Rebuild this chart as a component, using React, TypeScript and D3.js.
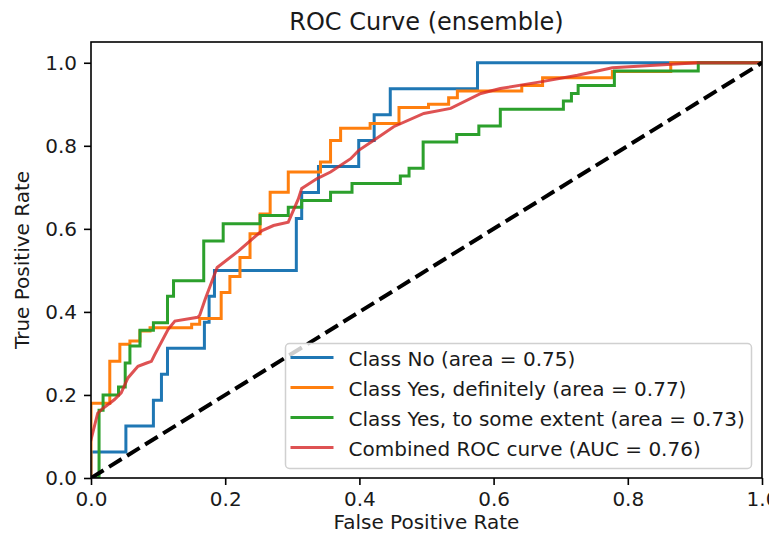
import React, { useEffect, useRef } from 'react';
import * as d3 from 'd3';

// ROC points
const NO_FPR = [0, 0, 0.052, 0.052, 0.093, 0.093, 0.105, 0.105, 0.114, 0.114, 0.169, 0.169, 0.176, 0.176, 0.184, 0.184, 0.306, 0.306, 0.314, 0.314, 0.339, 0.339, 0.399, 0.399, 0.422, 0.422, 0.446, 0.446, 0.576, 0.576, 1];
const NO_TPR = [0, 0.0625, 0.0625, 0.125, 0.125, 0.1875, 0.1875, 0.25, 0.25, 0.3125, 0.3125, 0.375, 0.375, 0.4375, 0.4375, 0.5, 0.5, 0.625, 0.625, 0.6875, 0.6875, 0.75, 0.75, 0.8125, 0.8125, 0.875, 0.875, 0.9375, 0.9375, 1, 1];

const DEF_FPR = [0, 0, 0.028, 0.028, 0.043, 0.043, 0.058, 0.058, 0.073, 0.073, 0.088, 0.088, 0.15, 0.15, 0.162, 0.162, 0.194, 0.194, 0.207, 0.207, 0.222, 0.222, 0.237, 0.237, 0.252, 0.252, 0.267, 0.267, 0.294, 0.294, 0.342, 0.342, 0.357, 0.357, 0.372, 0.372, 0.416, 0.416, 0.459, 0.459, 0.503, 0.503, 0.533, 0.533, 0.546, 0.546, 0.642, 0.642, 0.673, 0.673, 0.777, 0.777, 0.864, 0.864, 1];
const DEF_TPR = [0, 0.18, 0.18, 0.281, 0.281, 0.322, 0.322, 0.33, 0.33, 0.354, 0.354, 0.362, 0.362, 0.37, 0.37, 0.384, 0.384, 0.447, 0.447, 0.485, 0.485, 0.531, 0.531, 0.588, 0.588, 0.636, 0.636, 0.688, 0.688, 0.737, 0.737, 0.761, 0.761, 0.813, 0.813, 0.842, 0.842, 0.854, 0.854, 0.892, 0.892, 0.9, 0.9, 0.916, 0.916, 0.932, 0.932, 0.945, 0.945, 0.964, 0.964, 0.979, 0.979, 1, 1];

const SOME_FPR = [0, 0.012, 0.012, 0.018, 0.018, 0.041, 0.041, 0.051, 0.051, 0.058, 0.058, 0.073, 0.073, 0.093, 0.093, 0.114, 0.114, 0.123, 0.123, 0.168, 0.168, 0.197, 0.197, 0.252, 0.252, 0.294, 0.294, 0.314, 0.314, 0.357, 0.357, 0.389, 0.389, 0.461, 0.461, 0.474, 0.474, 0.495, 0.495, 0.545, 0.545, 0.578, 0.578, 0.61, 0.61, 0.704, 0.704, 0.716, 0.716, 0.726, 0.726, 0.78, 0.78, 0.905, 0.905, 1];
const SOME_TPR = [0, 0, 0.163, 0.163, 0.2, 0.2, 0.219, 0.219, 0.277, 0.277, 0.318, 0.318, 0.356, 0.356, 0.374, 0.374, 0.438, 0.438, 0.475, 0.475, 0.571, 0.571, 0.612, 0.612, 0.632, 0.632, 0.652, 0.652, 0.668, 0.668, 0.688, 0.688, 0.709, 0.709, 0.727, 0.727, 0.746, 0.746, 0.809, 0.809, 0.827, 0.827, 0.848, 0.848, 0.888, 0.888, 0.908, 0.908, 0.926, 0.926, 0.945, 0.945, 0.98, 0.98, 1, 1];

const ALL_FPR = [0, 0.01, 0.018, 0.028, 0.035, 0.045, 0.055, 0.07, 0.083, 0.09, 0.095, 0.115, 0.125, 0.159, 0.162, 0.17, 0.188, 0.22, 0.255, 0.272, 0.294, 0.309, 0.314, 0.337, 0.357, 0.387, 0.399, 0.421, 0.451, 0.496, 0.536, 0.581, 0.61, 0.67, 0.725, 0.777, 0.859, 0.904, 1];
const ALL_TPR = [0.092, 0.156, 0.168, 0.18, 0.189, 0.205, 0.241, 0.269, 0.277, 0.281, 0.297, 0.358, 0.378, 0.387, 0.392, 0.43, 0.507, 0.547, 0.596, 0.608, 0.616, 0.672, 0.697, 0.721, 0.737, 0.769, 0.789, 0.813, 0.846, 0.878, 0.89, 0.926, 0.938, 0.954, 0.97, 0.988, 0.996, 1, 1];

const LABELS = [
  'Class No (area = 0.75)',
  'Class Yes, definitely (area = 0.77)',
  'Class Yes, to some extent (area = 0.73)',
  'Combined ROC curve (AUC = 0.76)',
];
const COLORS = ['#1f77b4', '#ff7f0e', '#2ca02c', '#d62728'];
const TICKS = [0, 0.2, 0.4, 0.6, 0.8, 1.0];

const W = 777;
const H = 542;
const M = { top: 42, right: 15, bottom: 64, left: 91 };
const FONT = 'DejaVu Sans, sans-serif';
const INK = '#1a1a1a';

const App = () => {
  const svgRef = useRef(null);

  useEffect(() => {
    const svg = d3.select(svgRef.current);
    svg.selectAll('*').remove();

    const x = d3.scaleLinear().domain([0, 1]).range([M.left, W - M.right]);
    const y = d3.scaleLinear().domain([0, 1.05]).range([H - M.bottom, M.top]);

    svg.append('rect').attr('width', W).attr('height', H).attr('fill', '#fff');

    svg.append('clipPath').attr('id', 'plot-clip')
      .append('rect')
      .attr('x', M.left).attr('y', M.top)
      .attr('width', W - M.left - M.right).attr('height', H - M.top - M.bottom);

    const series = [
      [NO_FPR, NO_TPR],
      [DEF_FPR, DEF_TPR],
      [SOME_FPR, SOME_TPR],
      [ALL_FPR, ALL_TPR],
    ];

    const line = d3.line<[number, number]>().x(d => x(d[0])).y(d => y(d[1]));

    const plot = svg.append('g').attr('clip-path', 'url(#plot-clip)');
    series.forEach(([fx, ty], i) => {
      const pts = fx.map((v, k) => [v, ty[k]] as [number, number]);
      plot.append('path')
        .attr('d', line(pts))
        .attr('fill', 'none')
        .attr('stroke', COLORS[i])
        .attr('stroke-opacity', i === 3 ? 0.8 : 1)
        .attr('stroke-width', 3)
        .attr('stroke-linejoin', 'miter')
        .attr('stroke-linecap', 'square');
    });

    // chance diagonal
    plot.append('path')
      .attr('d', line([[0, 0], [1, 1]]))
      .attr('fill', 'none')
      .attr('stroke', '#000')
      .attr('stroke-width', 4)
      .attr('stroke-dasharray', '14.8,6.4');

    // frame
    svg.append('rect')
      .attr('x', M.left).attr('y', M.top)
      .attr('width', W - M.left - M.right).attr('height', H - M.top - M.bottom)
      .attr('fill', 'none').attr('stroke', '#000').attr('stroke-width', 1.6);

    const xAxis = svg.append('g')
      .attr('transform', `translate(0,${H - M.bottom})`)
      .call(d3.axisBottom(x).tickValues(TICKS).tickFormat(d3.format('.1f')).tickSize(7).tickPadding(7));
    const yAxis = svg.append('g')
      .attr('transform', `translate(${M.left},0)`)
      .call(d3.axisLeft(y).tickValues(TICKS).tickFormat(d3.format('.1f')).tickSize(7).tickPadding(7));

    [xAxis, yAxis].forEach(a => {
      a.select('.domain').remove();
      a.selectAll('line').attr('stroke', '#000').attr('stroke-width', 1.6);
      a.selectAll('text').attr('font-family', FONT).attr('font-size', 20).attr('fill', INK);
    });

    svg.append('text')
      .attr('x', (M.left + W - M.right) / 2).attr('y', 30)
      .attr('text-anchor', 'middle')
      .attr('font-family', FONT).attr('font-size', 24).attr('fill', INK)
      .text('ROC Curve (ensemble)');

    svg.append('text')
      .attr('x', (M.left + W - M.right) / 2).attr('y', 529)
      .attr('text-anchor', 'middle')
      .attr('font-family', FONT).attr('font-size', 20).attr('fill', INK)
      .text('False Positive Rate');

    svg.append('text')
      .attr('transform', `translate(29,${(M.top + H - M.bottom) / 2}) rotate(-90)`)
      .attr('text-anchor', 'middle')
      .attr('font-family', FONT).attr('font-size', 20).attr('fill', INK)
      .text('True Positive Rate');

    // legend, lower right
    const lg = svg.append('g').attr('transform', 'translate(285.5,343.5)');
    lg.append('rect')
      .attr('width', 466).attr('height', 125).attr('rx', 4)
      .attr('fill', '#fff').attr('fill-opacity', 0.8)
      .attr('stroke', '#d0d0d0').attr('stroke-width', 1.5);
    LABELS.forEach((label, i) => {
      const yy = 14 + i * 30;
      lg.append('line')
        .attr('x1', 5).attr('x2', 48).attr('y1', yy).attr('y2', yy)
        .attr('stroke', COLORS[i]).attr('stroke-opacity', i === 3 ? 0.8 : 1)
        .attr('stroke-width', 3);
      lg.append('text')
        .attr('x', 63).attr('y', yy + 8.5)
        .attr('font-family', FONT).attr('font-size', 20).attr('fill', INK)
        .text(label);
    });
  }, []);

  return <svg ref={svgRef} width={W} height={H} style={{ display: 'block', margin: '-8px' }}></svg>;
};

export default App;
